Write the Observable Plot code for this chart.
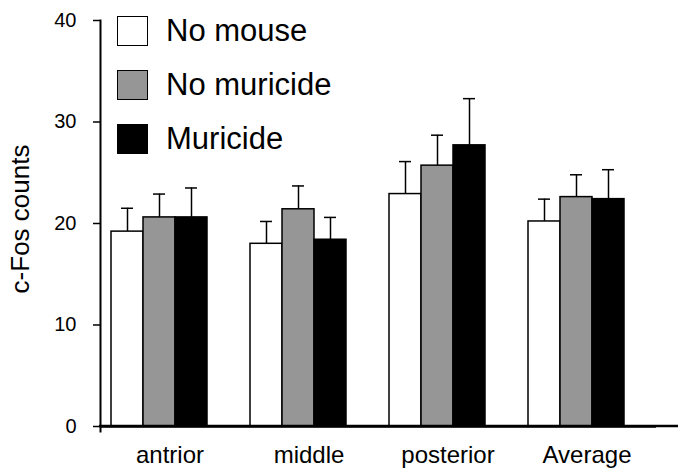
<!DOCTYPE html>
<html>
<head>
<meta charset="utf-8">
<script src="https://cdn.jsdelivr.net/npm/d3@7"></script>
<script src="https://cdn.jsdelivr.net/npm/@observablehq/plot@0.6"></script>
<style>
  html, body { margin: 0; padding: 0; background: #fff; }
  #wrap { position: relative; width: 678px; height: 470px; font-family: "Liberation Sans", Arial, sans-serif; }
  #legend { position: absolute; left: 117px; top: 15px; }
  .item { display: flex; align-items: center; height: 31px; margin-bottom: 23px; }
  .sw { width: 29px; height: 28px; border: 1.5px solid #000; margin-right: 18px; box-sizing: content-box; }
  .lbl { font-size: 31px; color: #000; line-height: 31px; }
</style>
</head>
<body>
<div id="wrap"></div>
<script>
const groups = ["antrior", "middle", "posterior", "Average"];
const seriesNames = ["No mouse", "No muricide", "Muricide"];
const noMouse = [19.2, 18.0, 22.9, 20.2];
const noMouseErr = [2.3, 2.2, 3.2, 2.2];
const noMuricide = [20.6, 21.4, 25.7, 22.6];
const noMuricideErr = [2.3, 2.3, 3.0, 2.2];
const muricide = [20.6, 18.4, 27.7, 22.4];
const muricideErr = [2.9, 2.2, 4.6, 2.9];
const yTicks = [0, 10, 20, 30, 40];
const colors = ["#ffffff", "#969696", "#000000"];

const values = [noMouse, noMuricide, muricide];
const errs = [noMouseErr, noMuricideErr, muricideErr];
const data = [];
groups.forEach((g, i) => {
  seriesNames.forEach((s, j) => {
    data.push({group: g, series: s, value: values[j][i], err: errs[j][i]});
  });
});

const W = 678, H = 470, ML = 99, MR = 22;
const plot = Plot.plot({
  width: W,
  height: H,
  marginLeft: ML,
  marginRight: MR,
  marginTop: 20,
  marginBottom: 44,
  style: {fontFamily: "Liberation Sans, Arial, sans-serif", color: "#000", background: "#fff"},
  fx: {domain: groups, paddingInner: 0, paddingOuter: 0, label: null},
  x: {domain: seriesNames, paddingInner: 0, paddingOuter: 0.66, align: 0.25, axis: null},
  y: {domain: [0, 40], label: null},
  color: {domain: seriesNames, range: colors},
  marks: [
    Plot.ruleX(data, {fx: "group", x: "series", y1: "value", y2: d => d.value + d.err, stroke: "#000", strokeWidth: 1.5}),
    Plot.tickY(data, {fx: "group", x: "series", y: d => d.value + d.err, stroke: "#000", strokeWidth: 1.5, insetLeft: 10, insetRight: 10}),
    Plot.barY(data, {fx: "group", x: "series", y: "value", fill: "series", stroke: "#000", strokeWidth: 1.5}),
    Plot.axisY({ticks: yTicks, tickSize: 7, tickPadding: 17, fontSize: 20, label: null, strokeWidth: 1.5}),
    Plot.axisFx({anchor: "bottom", tickSize: 0, tickPadding: 19, fontSize: 24, label: null}),
    Plot.ruleY([0], {stroke: "#000", strokeWidth: 2.5}),
    Plot.frame({anchor: "left", facetAnchor: "left", stroke: "#000", strokeWidth: 2, insetBottom: -5})
  ]
});

const wrap = document.getElementById("wrap");
wrap.appendChild(plot);

const svg = d3.select(plot);
// x axis baseline continues to the right edge of the figure
const y0 = plot.scale("y").apply(0);
svg.append("line")
  .attr("x1", ML).attr("x2", W)
  .attr("y1", y0).attr("y2", y0)
  .attr("stroke", "#000").attr("stroke-width", 2.5);

// y axis title
svg.append("text")
  .attr("transform", `translate(20, 219) rotate(-90)`)
  .attr("text-anchor", "middle")
  .attr("dominant-baseline", "central")
  .attr("font-size", 26)
  .attr("fill", "#000")
  .text("c-Fos counts");

// legend
const legend = document.createElement("div");
legend.id = "legend";
seriesNames.forEach((s, j) => {
  const it = document.createElement("div");
  it.className = "item";
  const sw = document.createElement("div");
  sw.className = "sw";
  sw.style.background = colors[j];
  const lb = document.createElement("span");
  lb.className = "lbl";
  lb.textContent = s;
  it.appendChild(sw);
  it.appendChild(lb);
  legend.appendChild(it);
});
wrap.appendChild(legend);
</script>
</body>
</html>
